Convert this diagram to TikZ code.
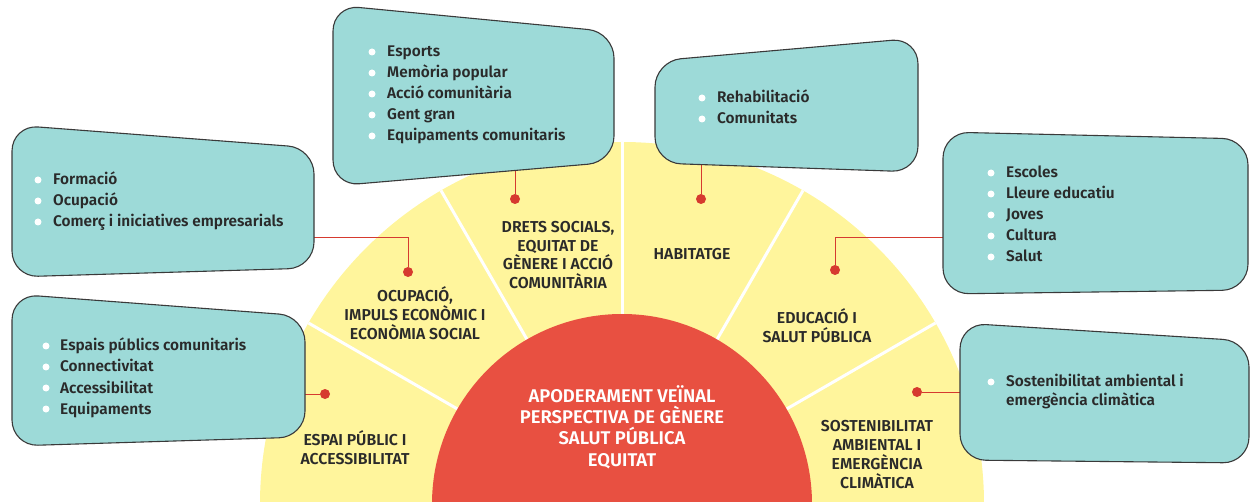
\documentclass[tikz,border=0pt]{standalone}
\usepackage{fontspec}
\setmainfont{Fira Sans}[BoldFont={Fira Sans SemiBold}]
\usetikzlibrary{calc}
\definecolor{boxfill}{HTML}{9DDAD8}
\definecolor{boxedge}{HTML}{3A3A3A}
\definecolor{sun}{HTML}{FFF59C}
\definecolor{core}{HTML}{E85041}
\definecolor{dotred}{HTML}{D63A2F}
\definecolor{ink}{HTML}{2A2A2A}
\tikzset{
 box/.style={fill=boxfill, draw=boxedge, line width=1.1pt, rounded corners=26pt},
 item/.style={anchor=base west, inner sep=0pt, font=\fontsize{15.4}{17}\selectfont\bfseries, text=ink},
 bul/.style={circle, fill=white, inner sep=0pt, minimum size=7pt},
 lab/.style={align=center, inner sep=0pt, font=\fontsize{15.8}{18.8}\selectfont\bfseries, text=ink},
 corelab/.style={align=center, inner sep=0pt, font=\fontsize{18.4}{21.3}\selectfont\bfseries, text=white},
 dot/.style={circle, fill=dotred, inner sep=0pt, minimum size=10pt},
 link/.style={draw=dotred, line width=0.9pt},
 divider/.style={draw=white, line width=3pt},
}
\begin{document}
\begin{tikzpicture}[x=1pt,y=-1pt]
\useasboundingbox (0,0) rectangle (1250,502);
\clip (0,0) rectangle (1250,502);
\coordinate (c) at (622,504);
% yellow half disc
\fill[sun] (c) circle[radius=362];
% dividers
\foreach \a in {-30,-60,-90,-120,-150}{
  \coordinate (d\a) at ($(c)+(\a:362)$);
  \draw[divider] (c) -- (d\a);
}
% red core
\fill[core] (c) circle[radius=190];
\node[corelab] (core) at (622,427) {APODERAMENT VEÏNAL\\PERSPECTIVA DE GÈNERE\\SALUT PÚBLICA\\EQUITAT};
% sector labels
\node[lab] (s1) at (355,447.5) {ESPAI PÚBLIC I\\ACCESSIBILITAT};
\node[lab] (s2) at (415,313) {OCUPACIÓ,\\IMPULS ECONÒMIC I\\ECONÒMIA SOCIAL};
\node[lab] (s3) at (558,255) {DRETS SOCIALS,\\EQUITAT DE\\GÈNERE I ACCIÓ\\COMUNITÀRIA};
\node[lab] (s4) at (692,254) {HABITATGE};
\node[lab] (s5) at (817,326) {EDUCACIÓ I\\SALUT PÚBLICA};
\node[lab] (s6) at (877,454.5) {SOSTENIBILITAT\\AMBIENTAL I\\EMERGÈNCIA\\CLIMÀTICA};
% dots
\node[dot] (p1) at (325,394) {};
\node[dot] (p2) at (408,272) {};
\node[dot] (p3) at (515,199) {};
\node[dot] (p4) at (701,199) {};
\node[dot] (p5) at (835,270) {};
\node[dot] (p6) at (917,392) {};
% link anchors on box edges
\coordinate (e1) at (300,394);
\coordinate (e2) at (310,237);
\coordinate (e3) at (515,166);
\coordinate (e4) at (701,160);
\coordinate (e5) at (947,237);
\coordinate (e6) at (964,392);
\draw[link] (e1) -- (p1);
\draw[link] (e2) -| (p2);
\draw[link] (e3) -- (p3);
\draw[link] (e4) -- (p4);
\draw[link] (e5) -| (p5);
\draw[link] (e6) -- (p6);
% boxes
\path[box] (12,125) -- (314,148) -- (314,268) -- (12,277) -- cycle;
\path[box] (12,294) -- (305,316) -- (305,437) -- (12,446) -- cycle;
\path[box] (333,5) -- (614,32) -- (614,162) -- (333,186) -- cycle;
\path[box] (655,61) -- (918,38) -- (918,172) -- (655,163) -- cycle;
\path[box] (943,132) -- (1248,139) -- (1248,290) -- (943,294) -- cycle;
\path[box] (960,323) -- (1249,341) -- (1249,463) -- (960,460) -- cycle;
% lists
\foreach \t [count=\i from 0] in {Formació, Ocupació, {Comerç i iniciatives empresarials}}{
  \node[bul] (fb\i) at (38,180+21*\i) {};
  \node[item] (ft\i) at (53,185+21*\i) {\t};
}
\foreach \t [count=\i from 0] in {Espais públics comunitaris, Connectivitat, Accessibilitat, Equipaments}{
  \node[bul] (eb\i) at (46,346+21*\i) {};
  \node[item] (et\i) at (60,351+21*\i) {\t};
}
\foreach \t [count=\i from 0] in {Esports, Memòria popular, Acció comunitària, Gent gran, Equipaments comunitaris}{
  \node[bul] (db\i) at (372,52+21*\i) {};
  \node[item] (dt\i) at (387,57+21*\i) {\t};
}
\foreach \t [count=\i from 0] in {Rehabilitació, Comunitats}{
  \node[bul] (hb\i) at (702,98+21*\i) {};
  \node[item] (ht\i) at (717,103+21*\i) {\t};
}
\foreach \t [count=\i from 0] in {Escoles, Lleure educatiu, Joves, Cultura, Salut}{
  \node[bul] (cb\i) at (991,173+21*\i) {};
  \node[item] (ct\i) at (1006,178+21*\i) {\t};
}
\node[bul] (sb0) at (991,382) {};
\node[item] (st0) at (1006,387) {Sostenibilitat ambiental i};
\node[item] (st1) at (1006,406) {emergència climàtica};
\end{tikzpicture}
\end{document}
